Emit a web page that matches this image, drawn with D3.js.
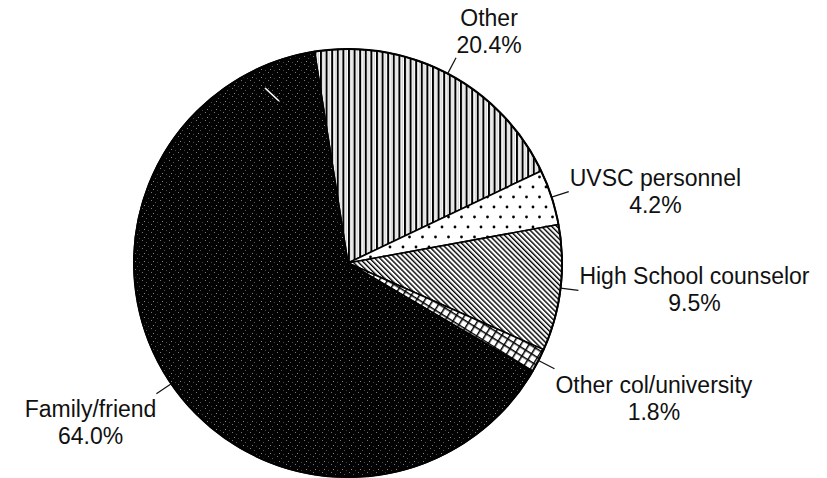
<!DOCTYPE html>
<html>
<head>
<meta charset="utf-8">
<script src="https://cdn.jsdelivr.net/npm/d3@7"></script>
<style>
  html, body { margin: 0; padding: 0; background: #fff; }
  svg { display: block; }
  text { font-family: "Liberation Sans", Arial, Helvetica, sans-serif; font-size: 23px; fill: #111; }
</style>
</head>
<body>
<svg id="chart" width="827" height="478"></svg>
<script>
// ---- data ----
const categories = ["Other", "UVSC personnel", "High School counselor", "Other col/university", "Family/friend"];
const values = [20.4, 4.2, 9.5, 1.8, 64.0];
const percentLabels = ["20.4%", "4.2%", "9.5%", "1.8%", "64.0%"];
const fills = ["url(#pVert)", "url(#pDots)", "url(#pDiag)", "url(#pGrid)", "url(#pBlack)"];
// label placement style per slice
const labelModes = ["above", "right", "right", "belowRight", "belowLeft"];

// ---- layout ----
const svg = d3.select("#chart");
const cx = 348, cy = 263, r = 214;
const startDeg = -9;

const defs = svg.append("defs");
// vertical lines
const pv = defs.append("pattern").attr("id", "pVert").attr("patternUnits", "userSpaceOnUse")
  .attr("width", 5.6).attr("height", 10);
pv.append("rect").attr("width", 5.6).attr("height", 10).attr("fill", "#fff");
pv.append("rect").attr("x", 0).attr("width", 2).attr("height", 10).attr("fill", "#000");
pv.append("rect").attr("x", 3.6).attr("width", 0.6).attr("height", 10).attr("fill", "#aaa");
// dots
const pd = defs.append("pattern").attr("id", "pDots").attr("patternUnits", "userSpaceOnUse")
  .attr("width", 13).attr("height", 20);
pd.append("rect").attr("width", 13).attr("height", 20).attr("fill", "#fff");
pd.append("circle").attr("cx", 3).attr("cy", 4).attr("r", 1.4).attr("fill", "#000");
pd.append("circle").attr("cx", 9.5).attr("cy", 14).attr("r", 1.4).attr("fill", "#000");
// diagonal hatch
const pg = defs.append("pattern").attr("id", "pDiag").attr("patternUnits", "userSpaceOnUse")
  .attr("width", 3.6).attr("height", 10).attr("patternTransform", "rotate(-45)");
pg.append("rect").attr("width", 3.6).attr("height", 10).attr("fill", "#fff");
pg.append("rect").attr("width", 1.4).attr("height", 10).attr("fill", "#000");
// crosshatch grid
const pc = defs.append("pattern").attr("id", "pGrid").attr("patternUnits", "userSpaceOnUse")
  .attr("width", 7).attr("height", 7).attr("patternTransform", "rotate(32)");
pc.append("rect").attr("width", 7).attr("height", 7).attr("fill", "#fff");
pc.append("rect").attr("width", 1.5).attr("height", 7).attr("fill", "#000");
pc.append("rect").attr("width", 7).attr("height", 1.5).attr("fill", "#000");
// black speckled
const pb = defs.append("pattern").attr("id", "pBlack").attr("patternUnits", "userSpaceOnUse")
  .attr("width", 9).attr("height", 8);
pb.append("rect").attr("width", 9).attr("height", 8).attr("fill", "#030303");
[[1, 1, "#777"], [5, 3, "#555"], [3, 6, "#888"], [7, 7, "#444"]].forEach(([x, y, c]) =>
  pb.append("rect").attr("x", x).attr("y", y).attr("width", 1).attr("height", 1).attr("fill", c));

const data = categories.map((c, i) => ({ cat: c, value: values[i], pct: percentLabels[i], fill: fills[i], mode: labelModes[i] }));

const start = startDeg * Math.PI / 180;
const pie = d3.pie().sort(null).value(d => d.value).startAngle(start).endAngle(start + 2 * Math.PI);
const arcs = pie(data);
const arc = d3.arc().innerRadius(0).outerRadius(r);
const arcEdge = d3.arc().innerRadius(r).outerRadius(r);
const arcOut = d3.arc().innerRadius(r + 18).outerRadius(r + 18);

const g = svg.append("g").attr("transform", `translate(${cx},${cy})`);
g.selectAll("path.slice").data(arcs).join("path")
  .attr("class", "slice")
  .attr("d", arc)
  .attr("fill", d => d.data.fill)
  .attr("stroke", "#000")
  .attr("stroke-width", 1.6)
  .attr("stroke-linejoin", "round");
g.append("circle").attr("r", r).attr("fill", "none").attr("stroke", "#000").attr("stroke-width", 2);

// scan artefact: small white mark inside the dark slice
g.append("line").attr("x1", -83).attr("y1", -175).attr("x2", -69).attr("y2", -162)
  .attr("stroke", "#fff").attr("stroke-width", 1.6);

// leaders + labels
arcs.forEach(a => {
  const mid = (a.startAngle + a.endAngle) / 2;
  const p1 = arcEdge.centroid({ startAngle: mid, endAngle: mid });
  const p2 = arcOut.centroid({ startAngle: mid, endAngle: mid });
  g.append("line").attr("x1", p1[0]).attr("y1", p1[1]).attr("x2", p2[0]).attr("y2", p2[1])
    .attr("stroke", "#111").attr("stroke-width", 1.2);

  const t = svg.append("text").attr("text-anchor", "middle");
  const t1 = t.append("tspan").text(a.data.cat);
  const w = t1.node().getComputedTextLength();
  const ex = cx + p2[0], ey = cy + p2[1];
  let centerX, base1;
  const lh = 27;
  switch (a.data.mode) {
    case "above": centerX = ex + 33; base1 = ey - 5 - lh; break;
    case "right": centerX = ex + 1 + w / 2; base1 = ey - 6; break;
    case "belowRight": centerX = ex + 1 + w / 2; base1 = ey + 24; break;
    case "belowLeft": centerX = ex - w / 2; base1 = ey + 23; break;
  }
  t1.attr("x", centerX).attr("y", base1);
  t.append("tspan").attr("x", centerX).attr("y", base1 + lh).text(a.data.pct);
});
</script>
</body>
</html>
